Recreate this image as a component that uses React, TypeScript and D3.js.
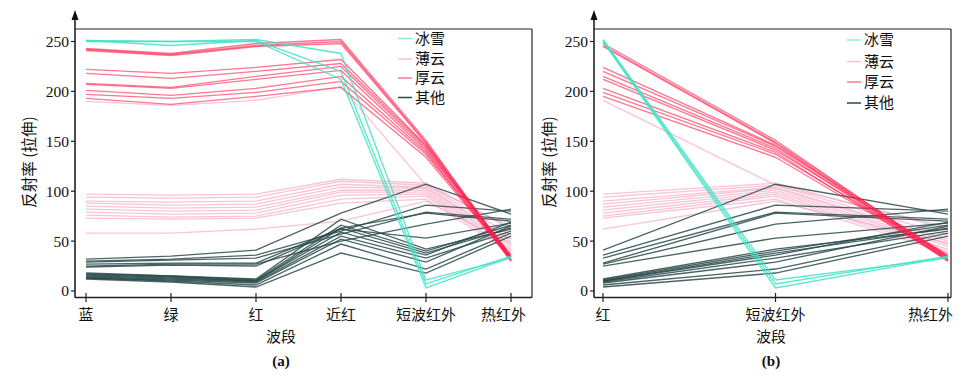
import React from "react";
import * as d3 from "d3";

// ---- data ----
const bandsA = ["蓝", "绿", "红", "近红", "短波红外", "热红外"];
const bandsB = ["红", "短波红外", "热红外"];
const yTicks = [0, 50, 100, 150, 200, 250];
const classNames = ["冰雪", "薄云", "厚云", "其他"];

// each row: values for 蓝, 绿, 红, 近红, 短波红外, 热红外
const snowIce = [
  [251, 250, 252, 238, 11, 33],
  [251, 246, 251, 220, 7, 35],
  [250, 250, 250, 212, 3, 34],
];

const thinCloud = [
  [97, 96, 97, 112, 108, 62],
  [94, 93, 94, 110, 106, 56],
  [90, 89, 90, 107, 104, 52],
  [88, 86, 87, 104, 103, 50],
  [85, 83, 84, 101, 101, 47],
  [82, 80, 81, 99, 99, 45],
  [79, 77, 78, 96, 97, 42],
  [76, 74, 75, 92, 95, 40],
  [73, 72, 73, 88, 92, 38],
  [58, 58, 62, 70, 90, 48],
  [190, 186, 191, 205, 106, 64],
];

const thickCloud = [
  [243, 238, 248, 252, 151, 32],
  [242, 237, 246, 250, 149, 34],
  [241, 236, 245, 248, 148, 30],
  [222, 218, 224, 232, 146, 35],
  [218, 213, 220, 228, 145, 33],
  [208, 204, 215, 225, 143, 31],
  [207, 203, 212, 221, 141, 36],
  [201, 196, 203, 215, 139, 30],
  [197, 193, 199, 210, 137, 34],
  [193, 187, 195, 204, 134, 32],
];

const others = [
  [32, 35, 41, 78, 107, 77],
  [30, 32, 36, 60, 86, 80],
  [29, 31, 33, 57, 79, 72],
  [27, 28, 28, 63, 78, 70],
  [25, 27, 27, 50, 67, 82],
  [24, 26, 25, 62, 53, 68],
  [18, 15, 12, 72, 42, 62],
  [17, 15, 11, 66, 40, 66],
  [16, 14, 10, 63, 38, 63],
  [15, 13, 10, 59, 36, 69],
  [14, 12, 9, 55, 33, 60],
  [13, 11, 8, 52, 29, 65],
  [13, 10, 6, 47, 22, 58],
  [12, 9, 4, 38, 18, 55],
];

// ---- styles ----
const classStyle: Record<string, { color: string; opacity: number; legend: string }> = {
  冰雪: { color: "#3fe3c6", opacity: 0.85, legend: "#7ff0dc" },
  薄云: { color: "#f59cbd", opacity: 0.6, legend: "#f9c0d3" },
  厚云: { color: "#ff1a4a", opacity: 0.6, legend: "#ff7a94" },
  其他: { color: "#2a4a4a", opacity: 0.85, legend: "#2a4a4a" },
};
const classData: Record<string, number[][]> = {
  冰雪: snowIce,
  薄云: thinCloud,
  厚云: thickCloud,
  其他: others,
};
const drawOrder = ["薄云", "其他", "厚云", "冰雪"];

const W = 968;
const H = 379;
const yScale = d3.scaleLinear().domain([0, 250]).range([291, 41.5]);

const serif = "'Liberation Serif', 'Times New Roman', serif";
const cjk = "'Noto Sans CJK SC', 'Noto Sans', sans-serif";

interface PanelProps {
  bands: string[];
  x0: number; // axis x
  x1: number; // right frame
  first: number;
  last: number;
  lastLabelEnd: number;
  ylabelX: number;
  titleX: number;
  tag: string;
  legendLineX: number;
  legendYs: number[];
}

function Panel(p: PanelProps) {
  const top = 29;
  const bottom = 297.5;
  const xScale = d3.scalePoint<string>().domain(p.bands).range([p.first, p.last]);
  const idx = p.bands.map((b) => bandsA.indexOf(b));
  const line = d3
    .line<number>()
    .x((_, i) => xScale(p.bands[i]) as number)
    .y((v) => yScale(v));

  return (
    <g>
      {/* series */}
      {drawOrder.map((c) => (
        <g key={c}>
          {classData[c].map((row, j) => (
            <path
              key={j}
              d={line(idx.map((k) => row[k])) || ""}
              fill="none"
              stroke={classStyle[c].color}
              strokeOpacity={classStyle[c].opacity}
              strokeWidth={1.35}
            />
          ))}
        </g>
      ))}
      {/* frame */}
      <line x1={p.x0} y1={top} x2={p.x1} y2={top} stroke="#222" strokeWidth={1.2} />
      <line x1={p.x1} y1={top} x2={p.x1} y2={bottom} stroke="#222" strokeWidth={1.2} />
      <line x1={p.x0} y1={bottom} x2={p.x1} y2={bottom} stroke="#222" strokeWidth={1.6} />
      <line x1={p.x0} y1={bottom} x2={p.x0} y2={16} stroke="#222" strokeWidth={1.6} />
      <path
        d={`M${p.x0 - 3.5},${20} L${p.x0},${10} L${p.x0 + 3.5},${20} Z`}
        fill="#111"
      />
      {/* y ticks */}
      {yTicks.map((t) => (
        <g key={t}>
          <line x1={p.x0 - 4} x2={p.x0} y1={yScale(t)} y2={yScale(t)} stroke="#222" strokeWidth={1.2} />
          <text
            x={p.x0 - 6}
            y={yScale(t)}
            dy="0.35em"
            textAnchor="end"
            fontFamily={serif}
            fontSize={15.5}
            fill="#111"
          >
            {t}
          </text>
        </g>
      ))}
      {/* x ticks */}
      {p.bands.map((b, i) => {
        const isLast = i === p.bands.length - 1;
        return (
          <g key={b}>
            <line
              x1={xScale(b)}
              x2={xScale(b)}
              y1={bottom - 4.5}
              y2={bottom + 4.5}
              stroke="#222"
              strokeWidth={1.2}
            />
            <text
              x={isLast ? p.lastLabelEnd : xScale(b)}
              y={315}
              dy="0.35em"
              textAnchor={isLast ? "end" : "middle"}
              fontFamily={cjk}
              fontSize={15}
              fill="#111"
            >
              {b}
            </text>
          </g>
        );
      })}
      {/* axis titles */}
      <text
        x={p.titleX}
        y={337}
        dy="0.35em"
        textAnchor="middle"
        fontFamily={cjk}
        fontSize={15}
        fill="#111"
      >
        波段
      </text>
      <text
        x={p.titleX}
        y={361}
        dy="0.35em"
        textAnchor="middle"
        fontFamily={serif}
        fontWeight="bold"
        fontSize={15}
        fill="#111"
      >
        {p.tag}
      </text>
      <text
        transform={`translate(${p.ylabelX},162) rotate(-90)`}
        dy="0.35em"
        textAnchor="middle"
        fontFamily={cjk}
        fontSize={15.5}
        fill="#111"
      >
        反射率 (拉伸)
      </text>
      {/* legend */}
      {classNames.map((c, i) => (
        <g key={c}>
          <line
            x1={p.legendLineX}
            x2={p.legendLineX + 14}
            y1={p.legendYs[i]}
            y2={p.legendYs[i]}
            stroke={classStyle[c].legend}
            strokeWidth={1.5}
          />
          <text
            x={p.legendLineX + 17}
            y={p.legendYs[i]}
            dy="0.36em"
            fontFamily={cjk}
            fontSize={15}
            fill="#111"
          >
            {c}
          </text>
        </g>
      ))}
    </g>
  );
}

export default function App() {
  return (
    <svg width={W} height={H} style={{ display: "block", position: "absolute", left: 0, top: 0, background: "#fff" }}>
      <rect x={0} y={0} width={W} height={H} fill="#fff" />
      <Panel
        bands={bandsA}
        x0={75}
        x1={532}
        first={86}
        last={511}
        lastLabelEnd={526}
        ylabelX={30}
        titleX={281}
        tag="(a)"
        legendLineX={398}
        legendYs={[38.5, 59, 78, 97.5]}
      />
      <Panel
        bands={bandsB}
        x0={594}
        x1={951}
        first={603}
        last={948}
        lastLabelEnd={953}
        ylabelX={550}
        titleX={771}
        tag="(b)"
        legendLineX={847}
        legendYs={[40, 61.5, 82, 103]}
      />
    </svg>
  );
}
